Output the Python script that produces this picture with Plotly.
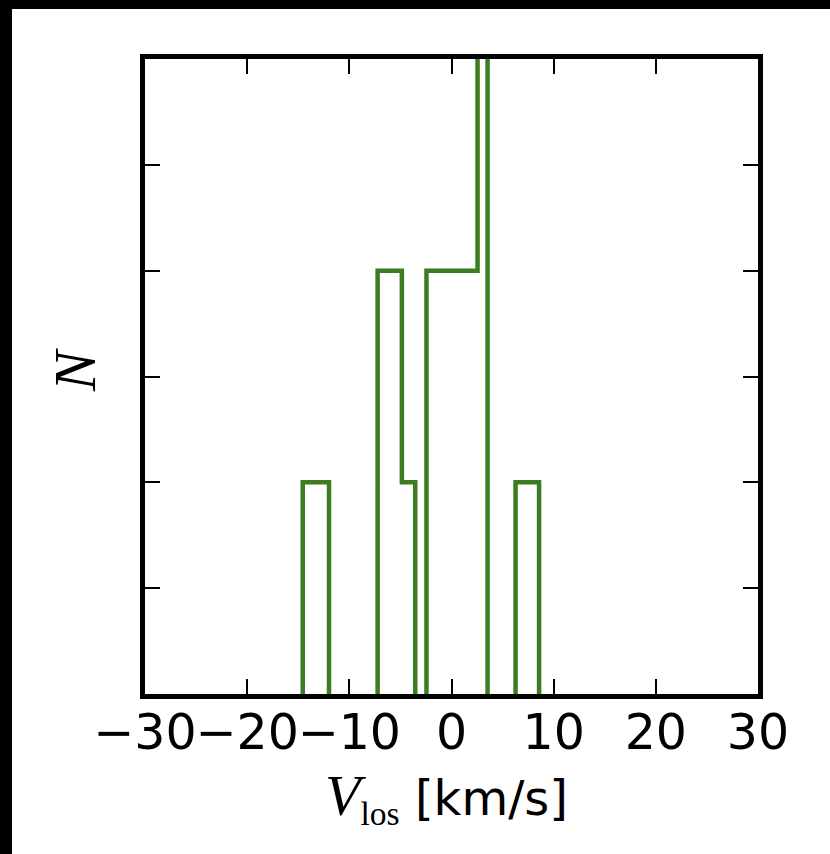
import plotly.graph_objects as go

# Velocity histogram (variable-width bins), drawn as an outline
bin_edges = [-14.56, -11.99, -7.23, -4.86, -3.55, -2.45, 2.55, 3.53, 6.27, 8.57]
counts = [2, 0, 4, 2, 0, 4, 7, 0, 2]

x_ticks = [-30, -20, -10, 0, 10, 20, 30]
x_tick_text = ["\u221230", "\u221220", "\u221210", "0", "10", "20", "30"]
y_ticks = [0, 1, 2, 3, 4, 5, 6]

# step outline; empty bins leave a gap so nothing runs along the baseline
xs, ys = [bin_edges[0]], [0]
for i, c in enumerate(counts):
    if c == 0:
        xs += [bin_edges[i], None, bin_edges[i + 1]]
        ys += [0, None, 0]
    else:
        xs += [bin_edges[i], bin_edges[i + 1]]
        ys += [c, c]
xs.append(bin_edges[-1])
ys.append(0)

W, H = 830, 854
L, R, T, B = 145, 72, 59, 160
pw, ph = W - L - R, H - T - B

fig = go.Figure()
fig.add_trace(go.Scatter(
    x=xs, y=ys, mode="lines", connectgaps=False,
    line=dict(color="#3c7d22", width=4.5),
    hoverinfo="skip", showlegend=False,
))

axis_common = dict(
    showline=True, linecolor="black", linewidth=5, mirror="ticks",
    ticks="inside", ticklen=15, tickwidth=2, tickcolor="black",
    showgrid=False, zeroline=False, layer="above traces",
)
fig.update_xaxes(
    range=[-30, 30], tickvals=x_ticks, ticktext=x_tick_text,
    tickfont=dict(family="DejaVu Sans", size=49, color="black"),
    tickangle=0, ticklabelstandoff=-9,
    **axis_common,
)
fig.update_yaxes(
    range=[0, 6], tickvals=y_ticks, showticklabels=False,
    **axis_common,
)

# white figure area inside the black frame
fig.add_shape(
    type="rect", xref="paper", yref="paper", layer="below",
    x0=(12 - L) / pw, x1=(W + 20 - L) / pw,
    y0=-(H + 20 - (H - B)) / ph, y1=1 + (T - 9) / ph,
    fillcolor="white", line=dict(width=0),
)

fig.add_annotation(
    xref="paper", yref="paper",
    x=(446 - L) / pw, y=-(798 - (H - B)) / ph,
    text=('<span style="font-family:Liberation Serif"><i style="font-size:58px">V</i>'
          '<sub>los</sub></span> [km/s]'),
    showarrow=False, xanchor="center", yanchor="middle",
    font=dict(family="DejaVu Sans", size=48, color="black"),
)
fig.add_annotation(
    xref="paper", yref="paper",
    x=(75 - L) / pw, y=(H - B - 370) / ph,
    text="<i>N</i>", textangle=-90,
    showarrow=False, xanchor="center", yanchor="middle",
    font=dict(family="Liberation Serif", size=60, color="black"),
)

fig.update_layout(
    width=W, height=H,
    margin=dict(l=L, r=R, t=T, b=B, autoexpand=False),
    paper_bgcolor="black", plot_bgcolor="white",
)
fig.write_html("out.html")
